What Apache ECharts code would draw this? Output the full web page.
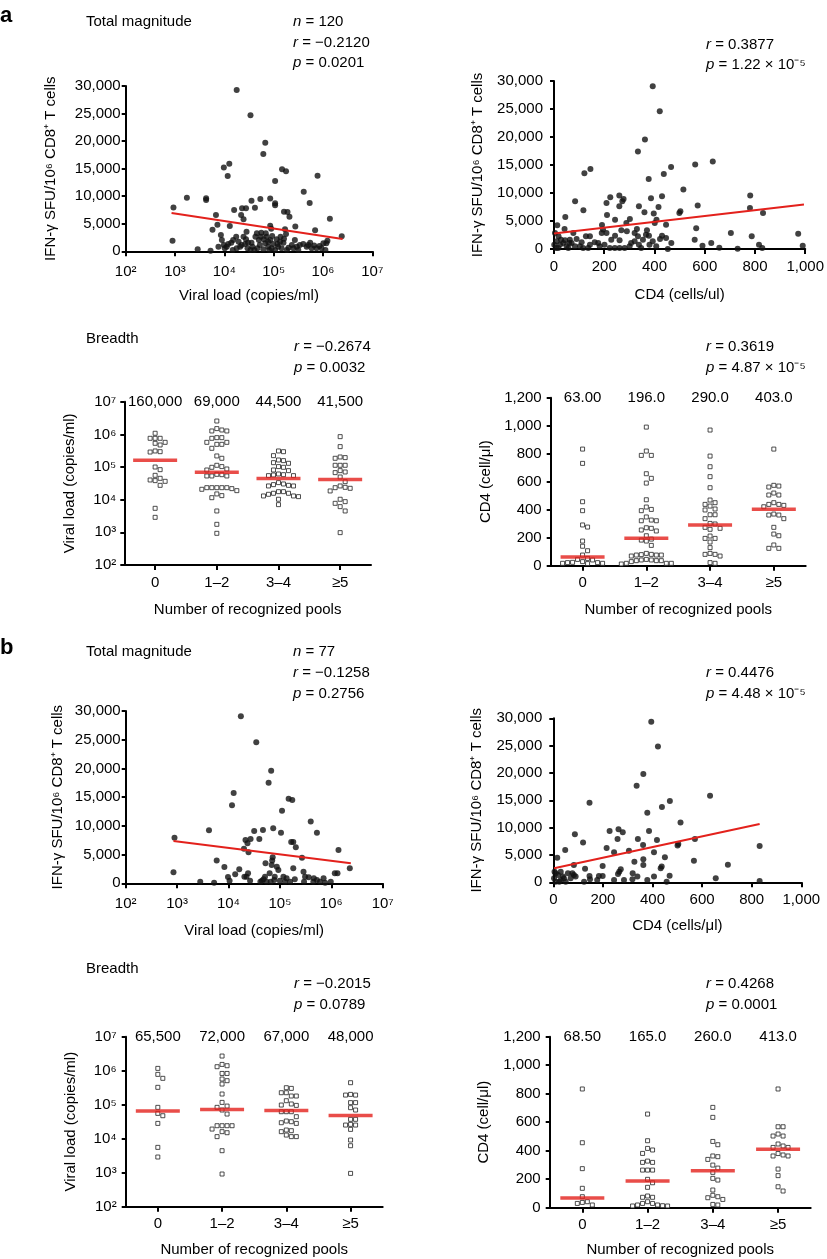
<!DOCTYPE html>
<html><head><meta charset="utf-8">
<script src="https://cdn.jsdelivr.net/npm/echarts@6/dist/echarts.min.js"></script>
<style>html,body{margin:0;padding:0;background:#fff}#c{width:827px;height:1259px}</style>
</head><body><div id="c"></div>
<script>
// ---------- DATA ----------
// Panel a, total magnitude: [viral load (copies/ml), IFN-γ SFU/10^6 CD8+ T cells]
const aMagVL = [
[17800,29280],[33900,24700],[67600,19700],[61700,17650],[9770,15200],[12600,15900],[11700,13650],[148000,14870],[178000,14550],[776000,13700],[107000,12750],[407000,10800],[930,7960],[1740,9710],[4270,9300],[4270,9650],[35500,9180],[53700,9480],[85100,9600],[107000,8700],[107000,8350],[537000,8770],[15800,7500],[22900,7800],[27500,7800],[41700,7900],[162000,7200],[191000,7140],[209000,6280],[21900,6590],[24500,5800],[1380000,5920],[6760,6590],[7240,4840],[5750,3930],[12900,4590],[8510,2960],[85100,4650],[89100,4110],[275000,4480],[692000,3810],[170000,3990],[178000,3140],[890,1930],[2400000,2720],[1230000,1930],[1170000,1450],[2880,360],[5250,120],
[9770,1150],[11200,840],[13800,1570],[15100,2050],[17400,2660],[19500,1750],[20900,840],[24500,2660],[26300,1330],[29500,540],[28200,3560],[33900,240],[37200,840],[45700,3260],[50100,2050],[52500,1150],[56200,3380],[61700,360],[67600,1450],[72400,2660],[77600,840],[85100,2050],[91200,540],[97700,1330],[115000,2180],[123000,840],[138000,2660],[158000,1570],[200000,660],[269000,2050],[295000,840],[339000,1150],[398000,1330],[468000,840],[550000,1570],[661000,1030],[741000,540],[851000,970],[933000,540],[1120000,240],[17800,540],[14800,240],[186000,240],[234000,1150],[40700,240],[107000,240],
[10200,540],[12000,1330],[22400,1150],[27500,2180],[35500,1570],[42700,2660],[55000,2660],[63100,2180],[69200,3260],[81300,240],[93300,2780],[120000,1330],[145000,540],[162000,2300],[251000,540],[316000,240],[501000,1150],[589000,540],[1020000,1450],[7590,840],[8910,2050],[30200,1570],[46800,540],[77600,1750],[135000,1750]
];
// Panel a, total magnitude: [CD4 (cells/ul), IFN-γ SFU]
const aMagCD4 = [
[393,29080],[421,24610],[362,19550],[334,17400],[121,13530],[145,14300],[377,12520],[466,14660],[437,13410],[562,15080],[632,15620],[515,10610],[84,8520],[117,6910],[209,8220],[224,9240],[260,9540],[277,8940],[272,8520],[260,7630],[386,9060],[430,9420],[416,7510],[338,7630],[360,6560],[397,6320],[211,6080],[243,5240],[302,5360],[572,7750],[503,6730],[499,6440],[781,9540],[780,7330],[832,6440],[45,5720],[13,4230],[42,3580],[191,4290],[190,2860],[408,5240],[401,4650],[446,4350],[330,3580],[290,3160],[370,3340],[366,2560],[566,3700],[430,2380],[422,1790],[560,1670],[704,2860],[787,2260],[972,2740],[990,600],[816,775],[829,180],[626,1070],[591,600],[658,240],[731,60],[243,2380],[261,1550],[209,2860],[176,1070],[143,2260],[127,2260],[90,1790],[77,2860],[63,1670],[28,1670],[11,1370],[24,775],[37,1070],[50,480],[70,1070],[103,480],[143,775],[182,480],[242,180],[281,180],[301,480],[321,1370],[338,775],[380,775],[407,480],[453,0],[467,1070],[354,1670],[321,2860],[268,3340],[288,4650],[1,775],[8,180],[17,180],[57,180],[83,480],[116,180],[136,180],[162,1190],[201,775],[222,180],[261,180],[347,180],[44,1550],[18,2260],[4,2860],[446,1970],[378,2380],[307,1070],[228,1670],[393,1370],[334,2260],[195,3460],[61,1070],[110,1190]
];
// Panel b, total magnitude
const bMagVL = [
[890,7950],[850,1915],[2820,290],[5250,116],[4170,9230],[5890,3950],[8320,2840],[9770,1100],[10500,460],[11700,13580],[12600,15730],[13500,1570],[16200,2440],[17400,29070],[20000,6030],[21400,7540],[23400,6960],[24500,5400],[22400,1160],[26300,460],[26900,7720],[31600,9110],[34700,24550],[39800,7720],[46800,9280],[44700,460],[51300,1160],[52500,3480],[60300,17520],[67600,19610],[63100,1740],[70800,3950],[74100,9575],[77600,580],[87100,2900],[93300,2320],[105000,8820],[110000,12650],[117000,1160],[126000,290],[148000,14740],[174000,14510],[166000,7200],[182000,7200],[204000,6270],[182000,2610],[195000,700],[269000,4470],[288000,2030],[295000,290],[398000,10740],[363000,1045],[457000,870],[525000,8820],[525000,580],[708000,870],[759000,116],[977000,290],[1170000,1740],[1320000,1740],[1380000,5800],[2290000,2610],
[47900,700],[66100,290],[79400,1160],[100000,460],[135000,870],[158000,290],[41700,290],[55000,290],[309000,1160],[447000,290],[603000,290],[24000,1740],[20400,1160],[69200,3190],[72400,4530]
];
const bMagCD4 = [
[395,29390],[422,24820],[363,19820],[336,17680],[146,14570],[470,14880],[438,13780],[379,12740],[632,15850],[513,10920],[87,8780],[120,7260],[227,9390],[263,9700],[280,9150],[259,7930],[341,7930],[386,9390],[418,7740],[362,6830],[406,5490],[215,6280],[245,5490],[305,5790],[571,7930],[501,6710],[504,7010],[450,4570],[48,5920],[16,4510],[5,1950],[83,3170],[128,2500],[199,2990],[199,1160],[184,1160],[327,3780],[363,4210],[363,3170],[266,1950],[272,2380],[261,1520],[320,1650],[319,550],[285,430],[406,1040],[433,2560],[437,2870],[469,1220],[457,120],[567,3960],[704,3230],[655,730],[832,6650],[832,240],[3,730],[9,120],[19,1340],[30,430],[39,1040],[50,120],[59,1650],[70,730],[77,1650],[90,1040],[30,1950],[148,550],[146,1160],[177,430],[245,430],[339,1040],[379,430],[24,120],[9,1650],[124,120],[83,1340],[43,730]
];
// Regression lines (end points)
const aMagVLFit = [[850,6950],[2500000,2230]];
const aMagCD4Fit = [[0,2750],[995,7950]];
const bMagVLFit = [[850,7370],[2400000,3480]];
const bMagCD4Fit = [[3,2560],[832,10670]];

// Breadth panels
const poolCats = ['0','1–2','3–4','≥5'];
const aBreadthVL = [
[1080000,757000,757000,757000,570000,532000,473000,310000,295000,288000,100000,83000,55700,45100,40100,38300,36500,27500,5440,2880],
[2560000,1500000,1270000,1270000,1360000,792000,792000,757000,570000,570000,495000,495000,374000,218000,185000,103000,113000,98000,81000,87000,58300,53200,53200,59800,53200,23300,23300,23300,21800,20800,23300,23300,18900,13300,11500,15000,4510,1760,933],
[295000,310000,223000,157000,130000,136000,164000,103000,77400,81100,98000,61200,54500,57000,54500,58300,33300,28900,26300,26300,27500,30300,17600,15700,14600,15700,17600,13000,12400,10300,13000,7050],
[851000,421000,203000,185000,194000,113000,113000,113000,70500,67300,77400,49500,35600,23900,26300,22300,18500,23300,10300,8700,6120,7740,4510,980]
];
const aBreadthVLMedian = [160000,69000,44500,41500];
const aBreadthVLMedianText = ['160,000','69,000','44,500','41,500'];

const aBreadthCD4 = [
[833,731,457,393,276,291,176,139,107,76,52,45,29,22,15,17,17,22,24,41],
[990,819,788,788,657,624,590,471,402,393,419,326,321,321,348,271,255,248,267,214,183,176,190,145,76,69,79,81,88,76,76,36,36,45,41,41,29,36,17,12,17,17],
[969,783,707,636,557,469,450,438,426,398,405,364,364,336,302,298,267,260,274,212,195,195,169,129,88,81,69,81,17,22],
[833,569,562,574,519,505,505,450,438,431,438,421,362,369,362,336,274,226,214,148,124,124]
];
const aBreadthCD4Median = [63,196,290,403];
const aBreadthCD4MedianText = ['63.00','196.0','290.0','403.0'];

const bBreadthVL = [
[1170000,596000,780000,324000,83600,55600,47400,28200,5560,2890],
[2700000,1400000,1310000,1530000,830000,830000,405000,508000,569000,206000,117000,91000,83600,69700,53100,24100,24100,24100,24100,19200,16100,15000,11500,4440,914],
[316000,302000,225000,180000,180000,225000,131000,97700,95500,105000,62200,62200,62200,44400,31600,28200,29500,33100,17200,16100,18000,12800,11500,11500],
[444000,192000,192000,201000,115000,115000,81700,69700,37100,37100,25200,18800,26400,25200,9140,6220,955]
];
const bBreadthVLMedian = [65500,72000,67000,48000];
const bBreadthVLMedianText = ['65,500','72,000','67,000','48,000'];

const bBreadthCD4 = [
[833,456,274,136,77,37,30,42,19],
[657,470,405,381,416,327,318,318,264,264,264,199,175,143,73,42,82,73,30,19,12,19,14,12,30],
[704,634,465,442,363,339,358,299,248,278,206,194,124,87,70,58,77,19,23],
[833,568,568,517,503,503,433,423,447,423,363,370,363,380,271,225,117,147]
];
const bBreadthCD4Median = [68.5,187,260,410];
const bBreadthCD4MedianText = ['68.50','165.0','260.0','413.0'];

// ---------- HELPERS ----------
const FONT = '"Liberation Sans", Arial, Helvetica, sans-serif';
const RED = '#e3211c';
const SUP = {'0':'⁰','1':'¹','2':'²','3':'³','4':'⁴','5':'⁵','6':'⁶','7':'⁷','8':'⁸','9':'⁹','-':'⁻'};
function logLabel(v){ const e = Math.round(Math.log10(v)); return '10' + String(e).split('').map(c => SUP[c]).join(''); }
function comma(v){ return String(Math.round(v)).replace(/\B(?=(\d{3})+(?!\d))/g, ','); }

const grids = [
  {left:125.7, top:86,     width:246.6, height:165.3}, // a: magnitude vs VL
  {left:554,   top:81,     width:252.3, height:168},   // a: magnitude vs CD4
  {left:124.3, top:401.7,  width:246.7, height:163.3}, // a: breadth VL
  {left:550.7, top:397.7,  width:255,   height:168},   // a: breadth CD4
  {left:125.7, top:711,    width:257,   height:172.3}, // b: magnitude vs VL
  {left:553.3, top:718.3,  width:248,   height:164},   // b: magnitude vs CD4
  {left:125.7, top:1036.7, width:257,   height:170},   // b: breadth VL
  {left:549.7, top:1036.7, width:261,   height:171}    // b: breadth CD4
];

function base(extra){
  const o = {
    nameLocation:'middle',
    nameTextStyle:{color:'#000', fontSize:15, fontFamily:FONT},
    axisLine:{show:true, onZero:false, lineStyle:{color:'#000', width:2}},
    axisTick:{show:true, inside:false, length:5, lineStyle:{color:'#000', width:2}},
    axisLabel:{color:'#000', fontSize:15, fontFamily:FONT},
    splitLine:{show:false}
  };
  for (const k in extra){
    if (typeof extra[k] === 'object' && !Array.isArray(extra[k]) && o[k]) o[k] = Object.assign({}, o[k], extra[k]);
    else o[k] = extra[k];
  }
  return o;
}
const IFN = 'IFN-γ SFU/10⁶ CD8⁺ T cells';

const xAxes = [
  base({gridIndex:0, type:'log', logBase:10, min:100, max:1e7, name:'Viral load (copies/ml)', nameGap:37, axisLabel:{margin:13, formatter:logLabel}}),
  base({gridIndex:1, type:'value', min:0, max:1000, interval:200, name:'CD4 (cells/ul)', nameGap:38, axisLabel:{margin:10, formatter:comma}}),
  base({gridIndex:2, type:'category', data:poolCats, boundaryGap:true, name:'Number of recognized pools', nameGap:37, axisTick:{alignWithLabel:true}, axisLabel:{margin:10}}),
  {gridIndex:2, type:'value', min:-0.5, max:3.5, show:false},
  base({gridIndex:3, type:'category', data:poolCats, boundaryGap:true, name:'Number of recognized pools', nameGap:37, axisTick:{alignWithLabel:true}, axisLabel:{margin:10}}),
  {gridIndex:3, type:'value', min:-0.5, max:3.5, show:false},
  base({gridIndex:4, type:'log', logBase:10, min:100, max:1e7, name:'Viral load (copies/ml)', nameGap:40, axisLabel:{margin:13, formatter:logLabel}}),
  base({gridIndex:5, type:'value', min:0, max:1000, interval:200, name:'CD4 (cells/μl)', nameGap:36, axisLabel:{margin:10, formatter:comma}}),
  base({gridIndex:6, type:'category', data:poolCats, boundaryGap:true, name:'Number of recognized pools', nameGap:36, axisTick:{alignWithLabel:true}, axisLabel:{margin:10}}),
  {gridIndex:6, type:'value', min:-0.5, max:3.5, show:false},
  base({gridIndex:7, type:'category', data:poolCats, boundaryGap:true, name:'Number of recognized pools', nameGap:35, axisTick:{alignWithLabel:true}, axisLabel:{margin:10}}),
  {gridIndex:7, type:'value', min:-0.5, max:3.5, show:false}
];
const yAxes = [
  base({gridIndex:0, type:'value', min:0, max:30000, interval:5000, name:IFN, nameGap:67, axisTick:{length:4}, axisLabel:{margin:5, formatter:comma}}),
  base({gridIndex:1, type:'value', min:0, max:30000, interval:5000, name:IFN, nameGap:69, axisTick:{length:4}, axisLabel:{margin:11, formatter:comma}}),
  base({gridIndex:2, type:'log', logBase:10, min:100, max:1e7, name:'Viral load (copies/ml)', nameGap:47, axisTick:{length:4}, axisLabel:{margin:8, formatter:logLabel}}),
  base({gridIndex:3, type:'value', min:0, max:1200, interval:200, name:'CD4 (cell/μl)', nameGap:57, axisTick:{length:4}, axisLabel:{margin:9, formatter:comma}}),
  base({gridIndex:4, type:'value', min:0, max:30000, interval:5000, name:IFN, nameGap:60, axisTick:{length:4}, axisLabel:{margin:5, formatter:comma}}),
  base({gridIndex:5, type:'value', min:0, max:30000, interval:5000, name:IFN, nameGap:69, axisTick:{length:4}, axisLabel:{margin:11, formatter:comma}}),
  base({gridIndex:6, type:'log', logBase:10, min:100, max:1e7, name:'Viral load (copies/ml)', nameGap:47, axisTick:{length:4}, axisLabel:{margin:9, formatter:logLabel}}),
  base({gridIndex:7, type:'value', min:0, max:1200, interval:200, name:'CD4 (cell/μl)', nameGap:58, axisTick:{length:4}, axisLabel:{margin:9, formatter:comma}})
];

function dots(xi, yi, data){
  return {type:'scatter', xAxisIndex:xi, yAxisIndex:yi, data, symbol:'circle', symbolSize:6, itemStyle:{color:'#111'}, z:2};
}
function fit(xi, yi, data){
  return {type:'line', xAxisIndex:xi, yAxisIndex:yi, data, symbol:'none', lineStyle:{color:RED, width:2}, z:3};
}
function squares(xi, yi){
  return {type:'scatter', xAxisIndex:xi, yAxisIndex:yi, data:[], symbol:'rect', symbolSize:4, itemStyle:{color:'#fff', borderColor:'#222', borderWidth:1}, z:2};
}
function bars(xi, yi, med){
  return {type:'scatter', xAxisIndex:xi, yAxisIndex:yi, data:med.map((m,i)=>[i,m]), symbol:'rect', symbolSize:[44,3.5], itemStyle:{color:RED}, z:4};
}
function medLabels(xi, yi, top, texts){
  return {type:'scatter', xAxisIndex:xi, yAxisIndex:yi, clip:false, symbol:'circle', symbolSize:0, itemStyle:{color:'#000', opacity:1},
    data:texts.map((t,i)=>({name:t, value:[i, top]})),
    label:{show:true, position:[0,0], align:'center', verticalAlign:'middle', formatter:'{b}', color:'#000', opacity:1, textBorderWidth:0, fontSize:15, fontFamily:FONT}, z:5};
}

const series = [
  dots(0,0,aMagVL), fit(0,0,aMagVLFit),
  dots(1,1,aMagCD4), fit(1,1,aMagCD4Fit),
  squares(3,2), bars(3,2,aBreadthVLMedian), medLabels(3,2,1e7,aBreadthVLMedianText),
  squares(5,3), bars(5,3,aBreadthCD4Median), medLabels(5,3,1200,aBreadthCD4MedianText),
  dots(6,4,bMagVL), fit(6,4,bMagVLFit),
  dots(7,5,bMagCD4), fit(7,5,bMagCD4Fit),
  squares(9,6), bars(9,6,bBreadthVLMedian), medLabels(9,6,1e7,bBreadthVLMedianText),
  squares(11,7), bars(11,7,bBreadthCD4Median), medLabels(11,7,1200,bBreadthCD4MedianText)
];

function T(x, y, text, extra){
  return {type:'text', x, y, silent:true, style:Object.assign({
    text, fill:'#000', fontSize:15, fontFamily:FONT, verticalAlign:'middle', align:'left',
    rich:{i:{fontStyle:'italic', fontSize:15, fontFamily:FONT, fill:'#000'}}
  }, extra || {})};
}
const graphic = [
  T(0,16,'a',{fontSize:22, fontWeight:'bold'}),
  T(86,22,'Total magnitude'), T(293,22,'{i|n} = 120'), T(293,43,'{i|r} = −0.2120'), T(293,63,'{i|p} = 0.0201'),
  T(706,45,'{i|r} = 0.3877'), T(706,65,'{i|p} = 1.22 × 10⁻⁵'),
  T(86,339,'Breadth'), T(294,347,'{i|r} = −0.2674'), T(294,368,'{i|p} = 0.0032'),
  T(706,347,'{i|r} = 0.3619'), T(706,368,'{i|p} = 4.87 × 10⁻⁵'),
  T(0,648,'b',{fontSize:22, fontWeight:'bold'}),
  T(86,652,'Total magnitude'), T(293,652,'{i|n} = 77'), T(293,673,'{i|r} = −0.1258'), T(293,694,'{i|p} = 0.2756'),
  T(706,673,'{i|r} = 0.4476'), T(706,694,'{i|p} = 4.48 × 10⁻⁵'),
  T(86,969,'Breadth'), T(294,984,'{i|r} = −0.2015'), T(294,1005,'{i|p} = 0.0789'),
  T(706,984,'{i|r} = 0.4268'), T(706,1005,'{i|p} = 0.0001')
];

const chart = echarts.init(document.getElementById('c'), null, {renderer:'canvas'});
const option = {animation:false, backgroundColor:'#fff', grid:grids, xAxis:xAxes, yAxis:yAxes, series, graphic,
  textStyle:{fontFamily:FONT}};
chart.setOption(option);

// beeswarm layout of each group in pixel space
function swarm(groups, xHid, yIdx, d, step){
  const x0 = chart.convertToPixel({xAxisIndex:xHid}, 0);
  const x1 = chart.convertToPixel({xAxisIndex:xHid}, 1);
  const band = x1 - x0;
  const out = [];
  groups.forEach((vals, g) => {
    const pts = vals.map(v => ({v, py: chart.convertToPixel({yAxisIndex:yIdx}, v)})).sort((a,b)=>a.py-b.py);
    const placed = [];
    pts.forEach(p => {
      for (let k = 0; k < 60; k++){
        const off = k === 0 ? 0 : (k % 2 ? 1 : -1) * Math.ceil(k/2) * step;
        if (!placed.some(q => Math.abs(q.x - off) < d - 0.01 && Math.abs(q.y - p.py) < d - 0.01)){
          placed.push({x:off, y:p.py}); out.push([g + off/band, p.v]); break;
        }
      }
    });
  });
  return out;
}
series[4].data = swarm(aBreadthVL, 3, 2, 5, 2.5);
series[7].data = swarm(aBreadthCD4, 5, 3, 5, 2.5);
series[14].data = swarm(bBreadthVL, 9, 6, 5, 2.5);
series[17].data = swarm(bBreadthCD4, 11, 7, 5, 2.5);
chart.setOption({series});
</script></body></html>
